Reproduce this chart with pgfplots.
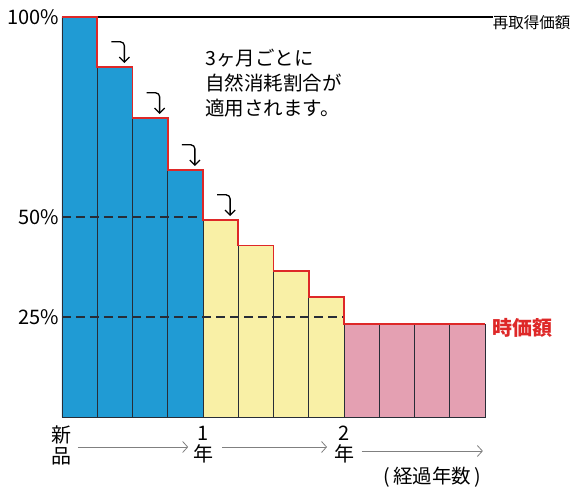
\documentclass[border=0pt]{standalone}
\usepackage{fontspec}
\setmainfont{Noto Sans CJK JP}
\usepackage{pgfplots}
\pgfplotsset{compat=1.18}
\usetikzlibrary{arrows.meta}

\definecolor{barblue}{RGB}{32,155,212}
\definecolor{baryellow}{RGB}{249,240,166}
\definecolor{barpink}{RGB}{228,160,178}
\definecolor{stepred}{RGB}{222,40,40}
\definecolor{edge}{RGB}{40,45,55}

\tikzset{curvy/.style={line width=1.3pt, rounded corners=4pt, -{Straight Barb[length=5pt,width=10pt]}}}

\begin{document}
\begin{tikzpicture}
\path[use as bounding box] (-62pt,-73pt) rectangle (518pt,417pt);
\begin{axis}[
  scale only axis,
  width=423pt, height=400pt,
  xmin=0, xmax=12, ymin=0, ymax=100,
  axis line style={draw=none},
  tick style={draw=none},
  major tick length=0pt,
  ytick={25,50,100},
  yticklabels={25\%,50\%,100\%},
  xtick={0,4,8},
  xticklabels={新\\品,1\\年,2\\年},
  xticklabel style={align=center, font=\fontsize{20}{21}\selectfont, inner sep=0pt, yshift=-9pt},
  yticklabel style={font=\fontsize{20}{20}\selectfont, inner sep=0pt, xshift=-3pt},
  /pgf/number format/assume math mode=true,
  clip=false,
]
% 3ヶ月ごとの価額 (%)
\addplot[ybar, bar shift=0pt, bar width=1, fill=barblue, draw=edge, line width=0.8pt]
  coordinates {(0.5,100) (1.5,87.5) (2.5,74.75) (3.5,61.75)};
\addplot[ybar, bar shift=0pt, bar width=1, fill=baryellow, draw=edge, line width=0.8pt]
  coordinates {(4.5,49.25) (5.5,42.9) (6.5,36.5) (7.5,30)};
\addplot[ybar, bar shift=0pt, bar width=1, fill=barpink, draw=edge, line width=0.8pt]
  coordinates {(8.5,23.25) (9.5,23.25) (10.5,23.25) (11.5,23.25)};

% dashed reference levels
\addplot[edge, dashed, dash pattern=on 9pt off 5pt, line width=1.3pt] coordinates {(0,50) (4,50)};
\addplot[edge, dashed, dash pattern=on 9pt off 5pt, line width=1.3pt] coordinates {(0,25) (8,25)};

% 再取得価額 line
\addplot[black, line width=1.2pt] coordinates {(1,100) (12.23,100)};

% 時価額 step line
\addplot[stepred, const plot, line width=1.6pt]
  coordinates {(0,100) (1,87.5) (2,74.75) (3,61.75) (4,49.25) (5,42.9) (6,36.5) (7,30) (8,23.25) (12,23.25)};

% curved arrows
\draw[curvy] (axis cs:1.40,93.8) -- (axis cs:1.77,93.8) -- (axis cs:1.77,88.5);
\draw[curvy] (axis cs:2.40,81.05) -- (axis cs:2.77,81.05) -- (axis cs:2.77,75.75);
\draw[curvy] (axis cs:3.40,68.05) -- (axis cs:3.77,68.05) -- (axis cs:3.77,62.75);
\draw[curvy] (axis cs:4.40,55.55) -- (axis cs:4.77,55.55) -- (axis cs:4.77,50.25);

\node[anchor=west, font=\fontsize{15.5}{16}\selectfont, inner sep=0pt] at (axis cs:12.22,98.6) {再取得価額};
\node[anchor=west, text=stepred, font=\bfseries\fontsize{20}{20}\selectfont, inner sep=0pt] at (axis cs:12.2,22.3) {時価額};
\node[anchor=north west, align=left, font=\fontsize{19.5}{25}\selectfont, inner sep=0pt] at (axis cs:4.06,92) {3ヶ月ごとに\\自然消耗割合が\\適用されます。};
\node[font=\fontsize{19.5}{20}\selectfont, inner sep=0pt] at (axis cs:10.5,-15) {(\,経過年数\,)};

% time arrows
\draw[gray, line width=0.8pt, -{Straight Barb[length=5pt,width=11pt]}] (axis cs:0.45,-7.5) -- (axis cs:3.58,-7.5);
\draw[gray, line width=0.8pt, -{Straight Barb[length=5pt,width=11pt]}] (axis cs:4.54,-7.5) -- (axis cs:7.52,-7.5);
\draw[gray, line width=0.8pt, -{Straight Barb[length=5pt,width=11pt]}] (axis cs:8.5,-8.5) -- (axis cs:11.94,-8.5);
\end{axis}
\end{tikzpicture}
\end{document}
